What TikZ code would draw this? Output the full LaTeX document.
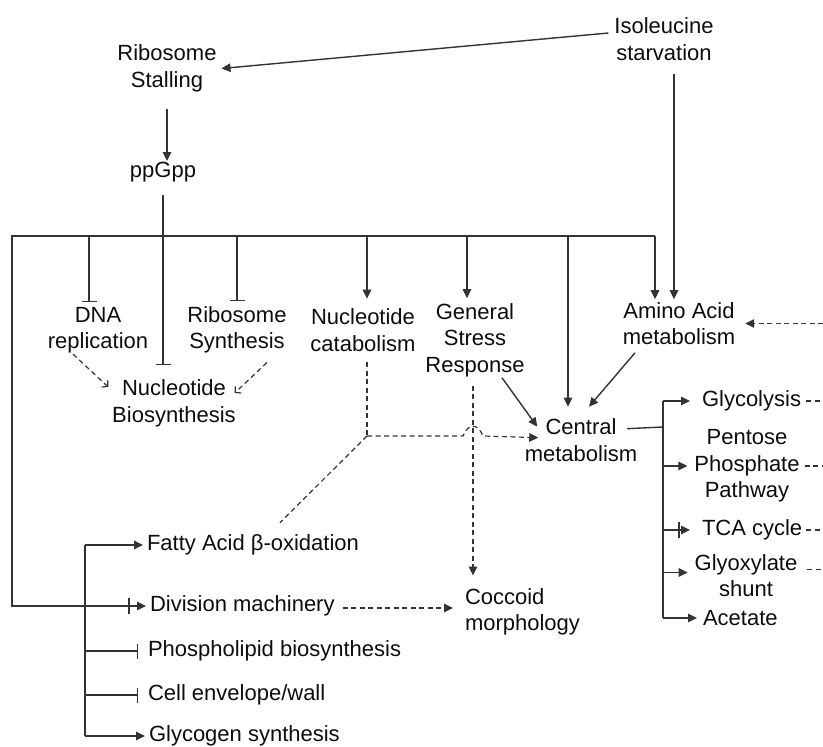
\documentclass[tikz,border=0pt]{standalone}
\usepackage{fontspec}
\setmainfont{Liberation Sans}
\usetikzlibrary{arrows.meta,calc}
\begin{document}
\begin{tikzpicture}[x=1pt,y=-1pt,
 every node/.style={inner sep=0pt,outer sep=0pt,text=black!95,font=\fontsize{22}{26.5}\selectfont},
 lbl/.style={align=center},
 ln/.style={draw=black!80,line width=1.4pt},
 arr/.style={ln,-{Triangle[length=9pt,width=8.5pt]}},
 inh/.style={ln,-{Bar[width=15pt]}},
 dsh/.style={ln,line width=1.2pt,dash pattern=on 5pt off 3.5pt},
 darr/.style={dsh,-{Triangle[length=9pt,width=8.5pt]}},
 dopen/.style={dsh,-{Straight Barb[length=4pt,width=9pt]}},
]
\useasboundingbox (0,0) rectangle (823,747);

% nodes
\node[lbl] (iso) at (664,39) {Isoleucine\\starvation};
\node[lbl] (rs) at (167,68.5) {Ribosome\\Stalling};
\node (pp) at (163,172) {ppGpp};
\node[lbl] (dna) at (98,330) {DNA\\replication};
\node[lbl] (rsyn) at (237,330) {Ribosome\\Synthesis};
\node[lbl] (nbio) at (174,403.5) {Nucleotide\\Biosynthesis};
\node[lbl] (ncat) at (363,330) {Nucleotide\\catabolism};
\node[lbl] (gsr) at (475,340) {General\\Stress\\Response};
\node[lbl] (aa) at (679,323.5) {Amino Acid\\metabolism};
\node[lbl] (cm) at (581,440) {Central\\metabolism};
\node[anchor=west] (gly) at (702,401) {Glycolysis};
\node[lbl] (ppp) at (747,466) {Pentose\\Phosphate\\Pathway};
\node[anchor=west] (tca) at (702,530) {TCA cycle};
\node[lbl] (glx) at (746,575.5) {Glyoxylate\\shunt};
\node[anchor=west] (ace) at (703,618) {Acetate};
\node[anchor=west] (fa) at (147,545) {Fatty Acid β-oxidation};
\node[anchor=west] (div) at (150,606) {Division machinery};
\node[anchor=west] (phos) at (148,651) {Phospholipid biosynthesis};
\node[anchor=west] (cell) at (148,695) {Cell envelope/wall};
\node[anchor=west] (glyc) at (149,736) {Glycogen synthesis};
\node[align=left,anchor=west] (cocc) at (465,612) {Coccoid\\morphology};

% coordinates
\coordinate (busL) at (12,236);
\coordinate (busR) at (655,236);
\coordinate (bx) at (85,606);
\coordinate (gx) at (663,427);
\coordinate (edge) at (823,0);
\coordinate (jn) at (367,436);
\coordinate (hopc) at (473,436);
\coordinate (bDNA) at (89,236);
\coordinate (bNC) at (367,236);
\coordinate (bGS) at (467,236);
\coordinate (bCM) at (568,236);
\coordinate (bISO) at (674,0);

% top
\draw[arr] ($(iso.west)+(-6,-6)$) -- ($(rs.east)+(5,0)$);
\draw[arr] ($(rs.south)+(0,17)$) -- ($(rs.south |- pp.north)+(0,-1)$);
\draw[inh] ($(pp.south)+(0,13)$) -- ($(pp.south |- nbio.north)+(0,-15)$);
\draw[ln] (busR) -- (busL) |- (bx);

% bus branches
\draw[inh] (bDNA) -- ($(bDNA |- dna.north)+(0,-5)$);
\draw[inh] (busL -| rsyn.north) -- ($(rsyn.north)+(0,-5)$);
\draw[arr] (bNC) -- ($(bNC |- ncat.north)+(0,-10)$);
\draw[arr] (bGS) -- ($(bGS |- gsr.north)+(0,-5)$);
\draw[arr] (bCM) -- ($(bCM |- cm.north)+(0,-12)$);
\draw[arr] (busR) -- ($(busR |- aa.north)+(0,-3)$);
\draw[arr] ($(bISO |- iso.south)+(0,14)$) -- ($(bISO |- aa.north)+(0,-3)$);
\draw[arr] ($(aa.south)+(-44,8)$) -- ($(cm.north)+(8,-12)$);
\draw[arr] ($(gsr.south)+(27,1)$) -- ($(cm.north west)+(12.5,8)$);

% central metabolism outputs
\draw[ln] ($(cm.north east)+(-10,10)$) -- (gx);
\draw[ln] (gx |- gly.west) -- (gx |- ace.west);
\draw[arr] (gx |- gly.west) -- ($(gly.west)+(-12,0)$);
\draw[arr] (gx |- ppp.west) -- ($(ppp.west)+(-7,0)$);
\draw[arr] (gx |- tca.west) -- ($(tca.west)+(-12,0)$);
\draw[ln] ($(tca.west)+(-23,-8)$) -- ($(tca.west)+(-23,8)$);
\draw[arr] ($(gx |- glx.west)+(0,-3)$) -- ($(glx.west)+(-7,-3)$);
\draw[arr] (gx |- ace.west) -- ($(ace.west)+(-6,0)$);

% right stubs
\draw[dsh] ($(gly.east)+(5,0)$) -- (gly.east -| edge);
\draw[dsh] ($(ppp.east)+(5,0)$) -- (ppp.east -| edge);
\draw[dsh] ($(tca.east)+(4,0)$) -- (tca.east -| edge);
\draw[dsh] ($(glx.east)+(10,-6)$) -- ($(glx.east -| edge)+(0,-6)$);
\draw[darr] (aa.east -| edge) -- ($(aa.east)+(10,0)$);

% nucleotide biosynthesis
\draw[dopen] ($(dna.south)+(-25,1)$) -- ($(nbio.north west)+(-4,7)$);
\draw[dopen] ($(rsyn.south)+(30,9)$) -- ($(nbio.north east)+(-1,13)$);

% catabolism dashes
\draw[dsh] ($(bNC |- ncat.south)+(0,11)$) -- (jn);
\draw[darr] (jn) -- ($(hopc)+(-10,0)$) .. controls ($(hopc)+(-5,-13)$) and ($(hopc)+(5,-13)$) .. ($(hopc)+(10,0)$) -- ($(cm.north west)+(13.5,19)$);
\draw[dsh] (jn) -- ($(fa.north)+(27,-12)$);
\draw[darr] ($(hopc |- gsr.south)+(0,9)$) -- ($(hopc |- cocc.north)+(0,-13)$);
\draw[darr] ($(div.east)+(8,2)$) -- ($(cocc.west)+(-12,-4)$);

% left bracket
\draw[ln] (bx |- fa.west) -- (bx |- glyc.west);
\draw[arr] (bx |- fa.west) -- ($(fa.west)+(-4,0)$);
\draw[arr] (bx |- div.west) -- ($(div.west)+(-4,0)$);
\draw[ln] ($(div.west)+(-21,-8)$) -- ($(div.west)+(-21,8)$);
\draw[inh] (bx |- phos.west) -- ($(phos.west)+(-10,0)$);
\draw[inh] (bx |- cell.west) -- ($(cell.west)+(-10,0)$);
\draw[arr] (bx |- glyc.west) -- ($(glyc.west)+(-4,0)$);
\end{tikzpicture}
\end{document}
